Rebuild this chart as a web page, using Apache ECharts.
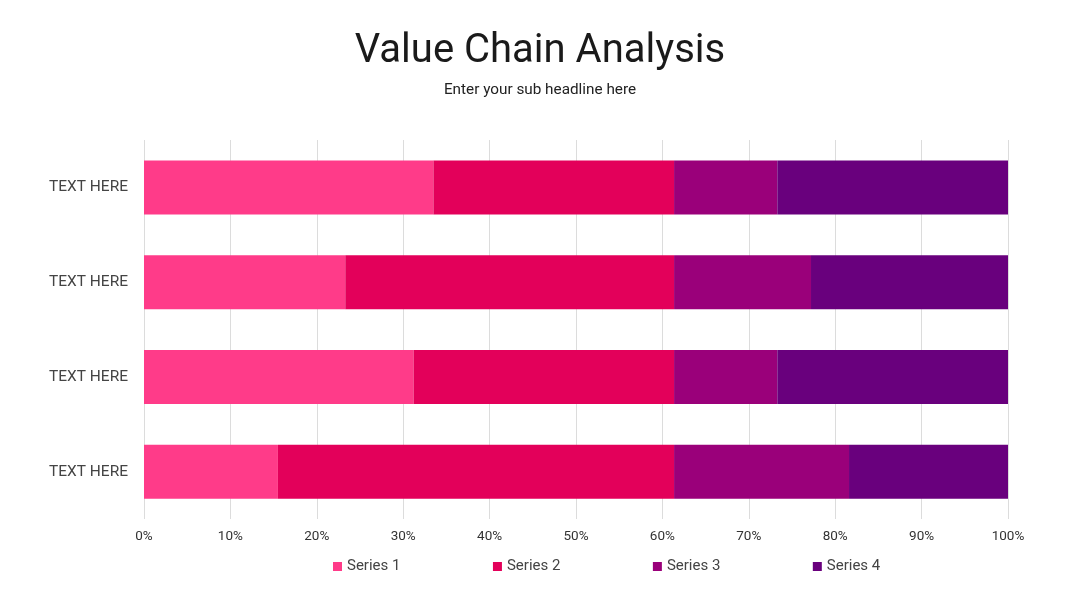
<!DOCTYPE html>
<html><head><meta charset="utf-8">
<script src="https://cdn.jsdelivr.net/npm/echarts@6/dist/echarts.min.js"></script>
<style>html,body{margin:0;padding:0;background:#fff}#c{width:1080px;height:608px}</style>
</head><body><div id="c"></div>
<script>
var categories = ['TEXT HERE', 'TEXT HERE', 'TEXT HERE', 'TEXT HERE']; // bottom to top
var series1 = [15.5, 31.2, 23.3, 33.5];
var series2 = [45.85, 30.15, 38.05, 27.85];
var series3 = [20.25, 11.95, 15.85, 11.95];
var series4 = [18.4, 26.7, 22.8, 26.7];
var seriesNames = ['Series 1', 'Series 2', 'Series 3', 'Series 4'];
var colors = ['#FF3B89', '#E3005A', '#9A007A', '#69007D'];
var xTicks = ['0%','10%','20%','30%','40%','50%','60%','70%','80%','90%','100%'];

var chart = echarts.init(document.getElementById('c'), null, {renderer:'canvas'});
var data = [series1, series2, series3, series4];
var font = 'Roboto, "Noto Sans", sans-serif';
chart.setOption({
  animation: false,
  color: colors,
  title: [{
    text: 'Value Chain Analysis', left: 'center', top: 27,
    textStyle: {fontFamily: font, fontSize: 40, fontWeight: 'normal', color: '#1a1a1a'}
  },{
    text: 'Enter your sub headline here', left: 'center', top: 78,
    textStyle: {fontFamily: font, fontSize: 15.3, fontWeight: 'normal', color: '#222'}
  }],
  legend: {
    left: 328, top: 554, itemWidth: 9, itemHeight: 9, itemGap: 92.5, icon: 'rect',
    textStyle: {fontFamily: font, fontSize: 15, color: '#444'},
    data: seriesNames
  },
  grid: {left: 144, right: 72, top: 140, bottom: 89, containLabel: false},
  xAxis: {
    type: 'value', min: 0, max: 100, interval: 10,
    axisLine: {show: false}, axisTick: {show: false},
    splitLine: {lineStyle: {color: '#dcdcdc', width: 1}},
    axisLabel: {fontFamily: font, fontSize: 13.5, color: '#333', margin: 11,
      formatter: function(v){ return xTicks[Math.round(v/10)]; }}
  },
  yAxis: {
    type: 'category', data: categories,
    axisLine: {show: false}, axisTick: {show: false},
    axisLabel: {fontFamily: font, fontSize: 15.5, color: '#444', margin: 16}
  },
  series: data.map(function(d, i){
    return {name: seriesNames[i], type: 'bar', stack: 'total', data: d,
      barWidth: 54, itemStyle: {color: colors[i]}};
  })
});
</script></body></html>
